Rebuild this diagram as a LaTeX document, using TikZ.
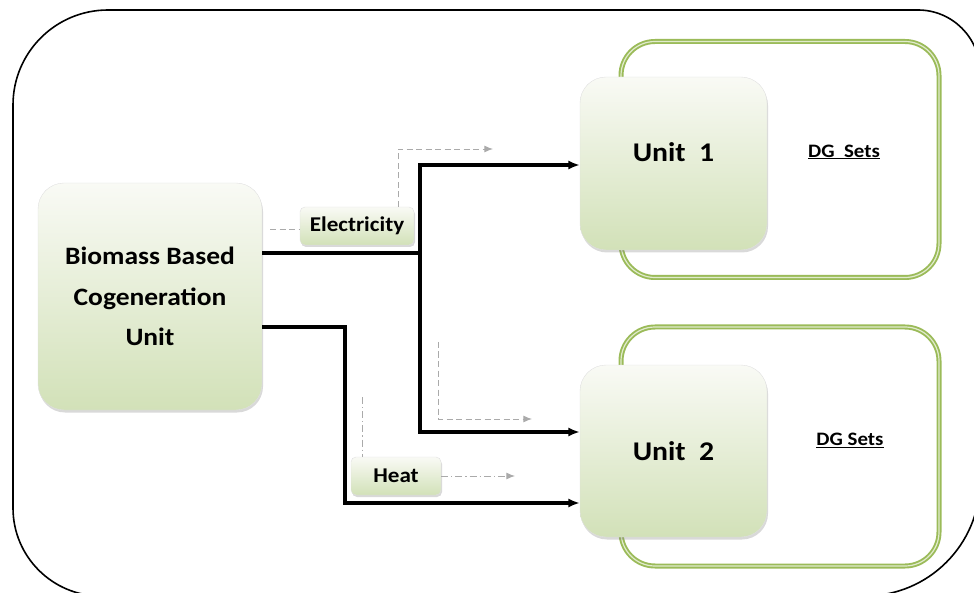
\documentclass[tikz,border=0pt]{standalone}
\usepackage{fontspec}
\setmainfont{Carlito}[FakeStretch=1.1]
\usetikzlibrary{arrows.meta,positioning,shadows}
\definecolor{verdeborda}{RGB}{155,187,89}
\definecolor{verdefundo}{RGB}{210,225,184}
\definecolor{verdetopo}{RGB}{249,250,245}
\definecolor{cinzaseta}{RGB}{170,170,170}
\tikzset{
  caixa/.style={rectangle,rounded corners=26pt,draw=black!12,top color=verdetopo,
    bottom color=verdefundo,inner sep=0pt,align=center,
    drop shadow={shadow xshift=1pt,shadow yshift=-2.5pt,opacity=0.3}},
  rotulo/.style={rectangle,rounded corners=5pt,draw=black!12,top color=verdetopo,
    bottom color=verdefundo,inner sep=0pt,
    drop shadow={shadow xshift=1pt,shadow yshift=-2pt,opacity=0.3}},
  moldura/.style={rectangle,rounded corners=34pt,draw=verdeborda,line width=1.9pt,
    double=verdeborda!30!white,double distance=1.2pt},
  linha/.style={line width=3.3pt},
  seta/.style={-{Latex[length=4mm,width=3.2mm]},line width=3.3pt},
  tracocinza/.style={cinzaseta,line width=0.9pt,dash pattern=on 6pt off 3.5pt},
  setacinza/.style={tracocinza,-{Latex[length=3mm,width=2.4mm]}},
  pontocinza/.style={cinzaseta,line width=0.9pt,dash pattern=on 7pt off 3pt on 1.2pt off 3pt},
  setaponto/.style={pontocinza,-{Latex[length=3mm,width=2.4mm]}}
}
\begin{document}
\begin{tikzpicture}[x=1pt,y=-1pt]
  \useasboundingbox (0,0) rectangle (974,593);
  \clip (0,0) rectangle (974,593);
  \draw[line width=1.6pt] (13,300) [rounded corners=95pt] -- (13,10)
    [rounded corners=62pt] -- (980,10) [rounded corners=115pt] -- (980,596)
    [rounded corners=88pt] -- (13,596) -- cycle;

  \node[moldura,minimum width=318pt,minimum height=236pt] (dg1) at (780,159.5) {};
  \node[moldura,minimum width=318pt,minimum height=239pt] (dg2) at (780,446.5) {};
  \node[font=\bfseries\fontsize{19}{22}\selectfont] (txdg1) at (844,152) {\underline{DG~~Sets}};
  \node[font=\bfseries\fontsize{19}{22}\selectfont] (txdg2) at (850,440) {\underline{DG Sets}};

  \node[caixa,minimum width=224pt,minimum height=227pt,
    font=\bfseries\fontsize{25}{40.5}\selectfont] (bio) at (150,296.5)
    {Biomass Based\\Cogeneration\\Unit};
  \node[caixa,minimum width=187pt,minimum height=173pt,text height=18pt,text depth=21pt,
    font=\bfseries\fontsize{27}{30}\selectfont] (u1) at (673.5,163.5) {Unit~~1};
  \node[caixa,minimum width=187pt,minimum height=172pt,
    font=\bfseries\fontsize{27}{30}\selectfont] (u2) at (673.5,451) {Unit~~2};
  \node[rotulo,minimum width=114pt,minimum height=38pt,
    font=\bfseries\fontsize{21}{24}\selectfont] (el) at (357,226) {Electricity};
  \node[rotulo,minimum width=90pt,minimum height=38pt,
    font=\bfseries\fontsize{21}{24}\selectfont] (ht) at (396,476) {Heat};

  \coordinate (ramo) at (420,253);
  \coordinate (desvio) at (345,327);
  \draw[linha] ([yshift=43.5pt]bio.east) -- (ramo);
  \draw[seta] (ramo) |- ([yshift=-1.5pt]u1.west);
  \draw[seta] (ramo) |- ([yshift=19pt]u2.west);
  \draw[seta] ([yshift=-30.5pt]bio.east) -- (desvio) |- ([yshift=-52pt]u2.west);

  \coordinate (fimel) at (493,149);
  \coordinate (inimeio) at (438,342);
  \coordinate (fimmeio) at (532,419);
  \coordinate (topoht) at (362,397);
  \coordinate (fimht) at (515,476);
  \draw[tracocinza] ([xshift=8pt,yshift=-3pt]bio.east |- el.west) -- ([yshift=-3pt]el.west);
  \draw[setacinza] ([xshift=41pt]el.north) |- (fimel);
  \draw[setacinza] (inimeio) |- (fimmeio);
  \draw[pontocinza] (topoht) -- ([xshift=-34pt]ht.north);
  \draw[setaponto] (ht.east) -- (fimht);
\end{tikzpicture}
\end{document}
